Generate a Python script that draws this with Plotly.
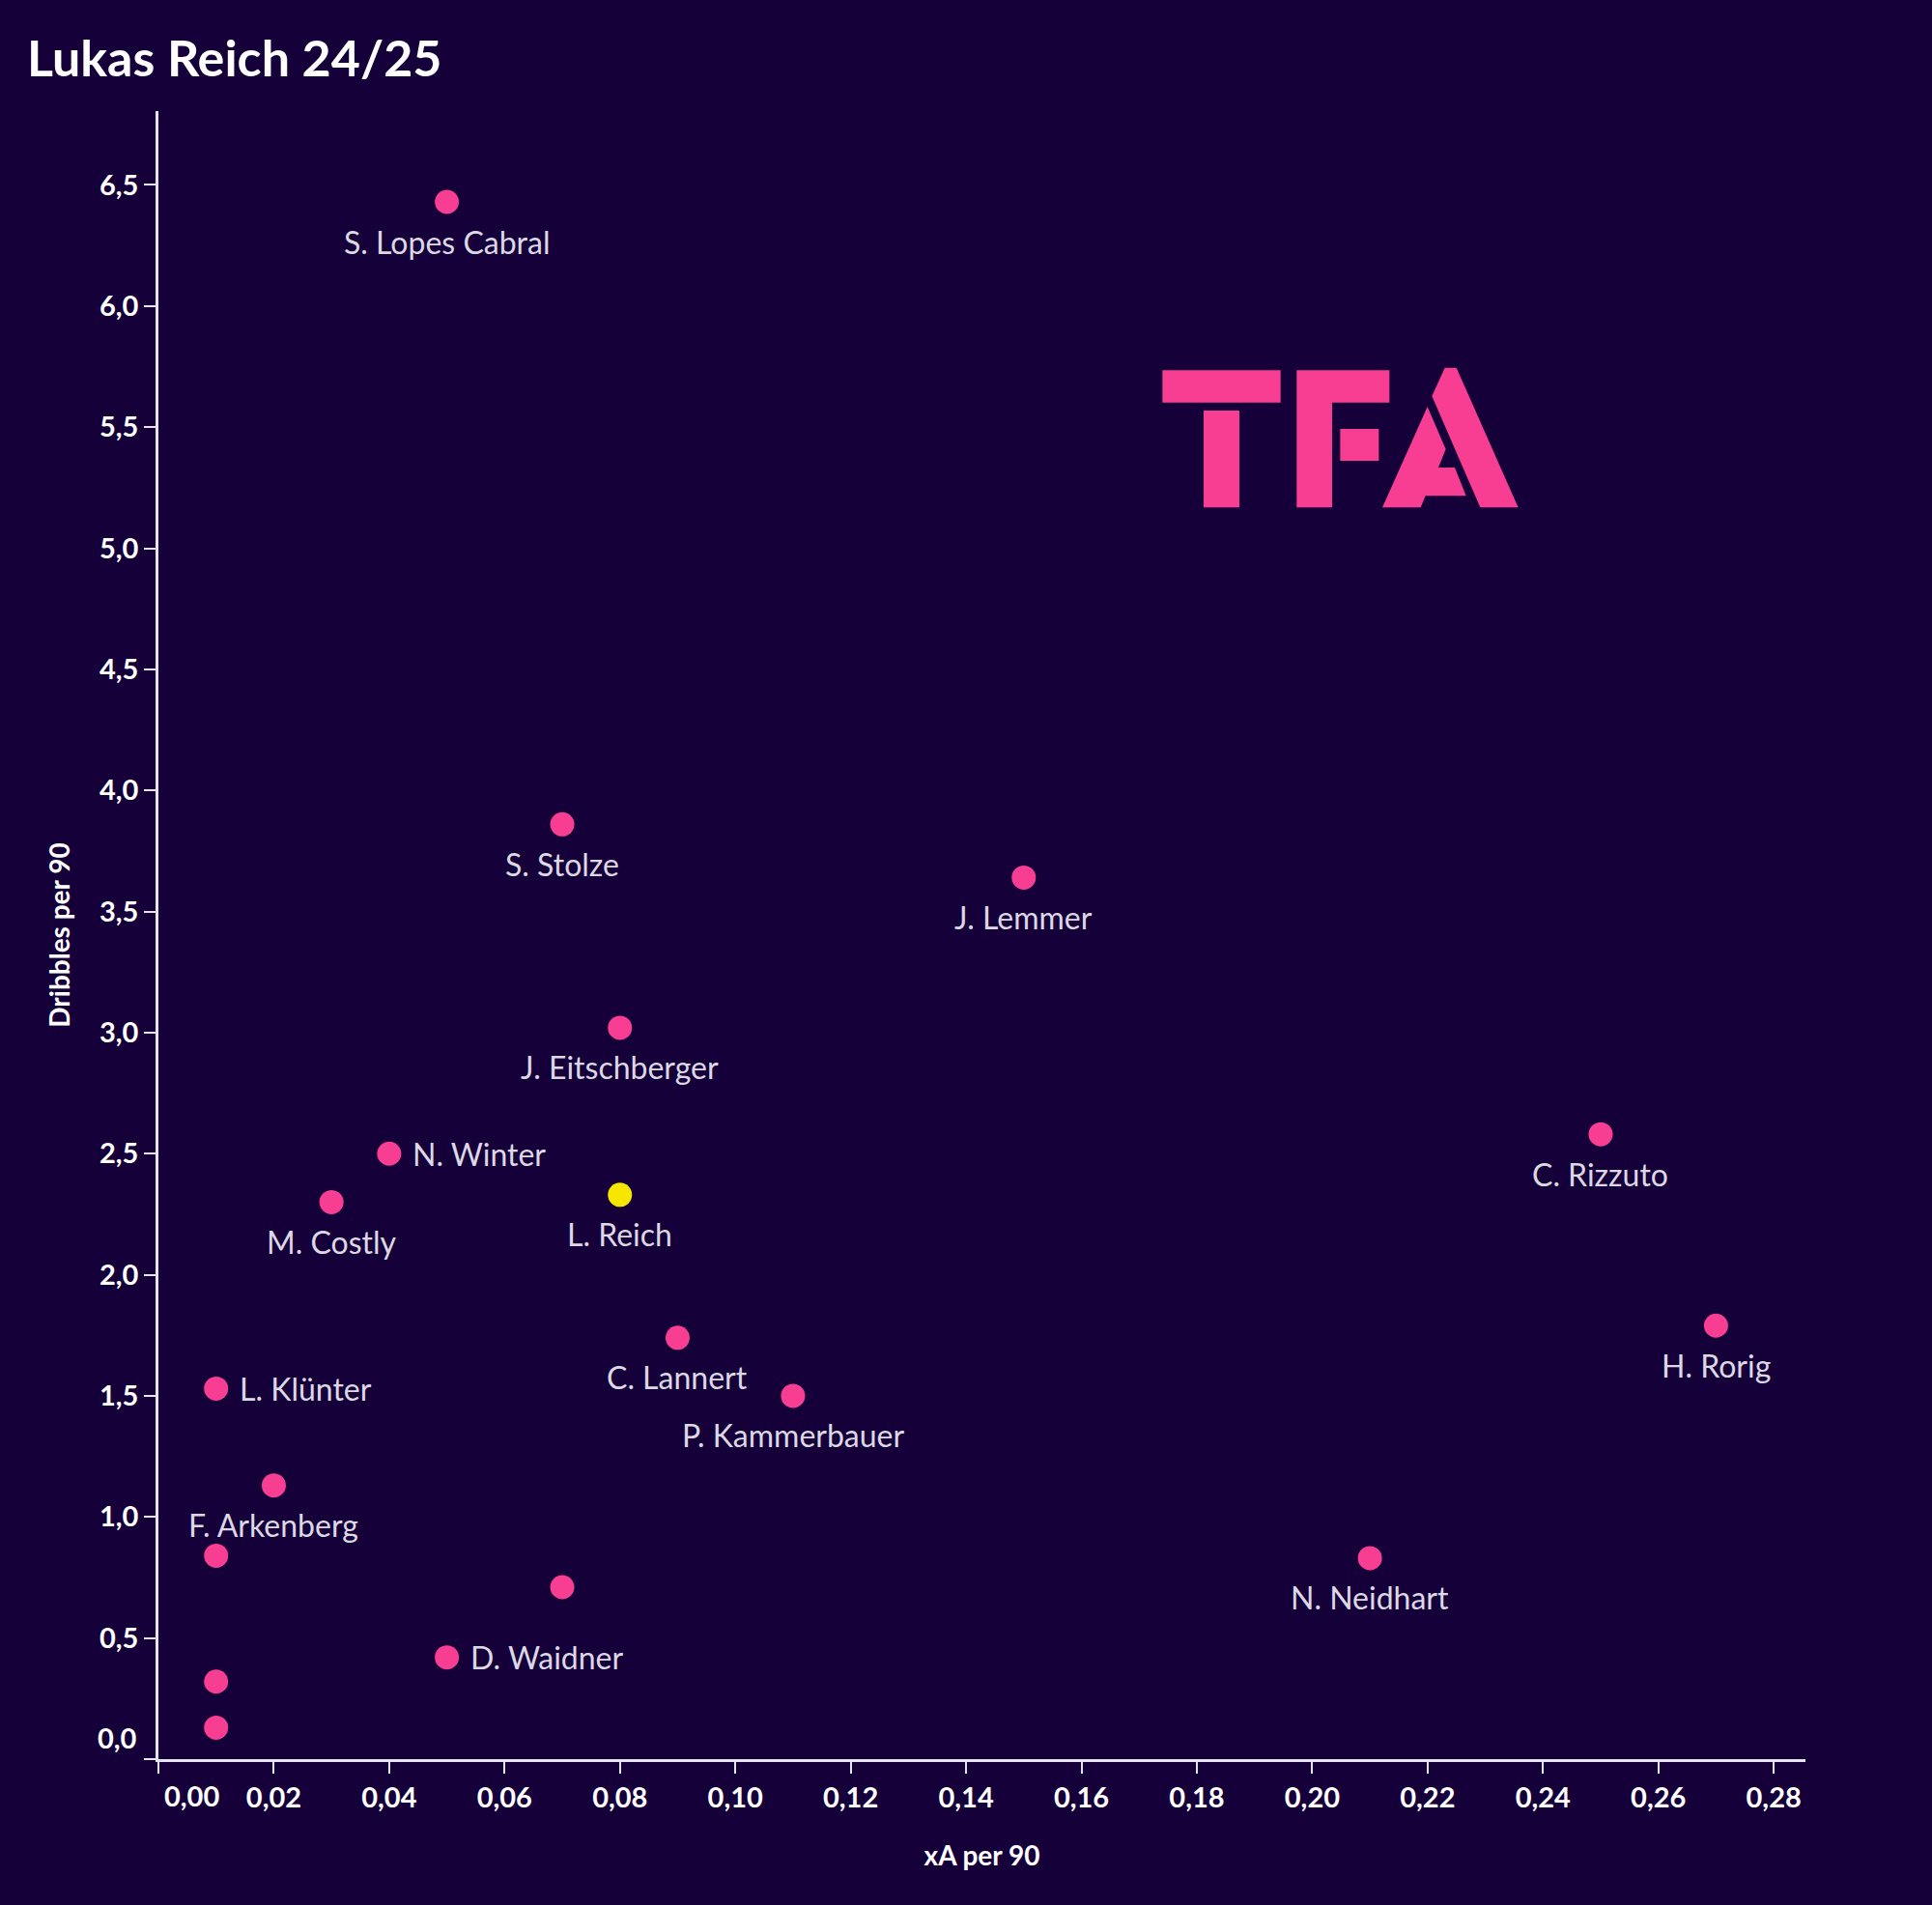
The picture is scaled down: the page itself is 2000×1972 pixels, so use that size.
import plotly.graph_objects as go

# players: xA per 90 vs dribbles per 90
players = ['S. Lopes Cabral', 'S. Stolze', 'J. Lemmer', 'J. Eitschberger', 'N. Winter',
           'M. Costly', 'L. Reich', 'C. Rizzuto', 'H. Rorig', 'C. Lannert',
           'P. Kammerbauer', 'L. Klünter', 'F. Arkenberg', '', '',
           'N. Neidhart', 'D. Waidner', '', '']
xa_per90 = [0.05, 0.07, 0.15, 0.08, 0.04,
            0.03, 0.08, 0.25, 0.27, 0.09,
            0.11, 0.01, 0.02, 0.01, 0.07,
            0.21, 0.05, 0.01, 0.01]
dribbles_per90 = [6.43, 3.86, 3.64, 3.02, 2.50,
                  2.30, 2.33, 2.58, 1.79, 1.74,
                  1.50, 1.53, 1.13, 0.84, 0.71,
                  0.83, 0.42, 0.32, 0.13]

x_ticks = [0.00, 0.02, 0.04, 0.06, 0.08, 0.10, 0.12, 0.14, 0.16, 0.18, 0.20, 0.22, 0.24, 0.26, 0.28]
y_ticks = [0.0, 0.5, 1.0, 1.5, 2.0, 2.5, 3.0, 3.5, 4.0, 4.5, 5.0, 5.5, 6.0, 6.5]

highlight = 'L. Reich'
right_labels = {'N. Winter', 'L. Klünter', 'D. Waidner'}

BG = '#15003a'
PINK = '#f73e93'
YELLOW = '#f6e600'
AXIS = '#e6e4ee'
LABEL = '#dcd8e4'
FONT = 'Lato'

W, H = 2000, 1972
L, R, T, B = 164, 131, 115, 151


def fmt(v, d):
    return f'{v:.{d}f}'.replace('.', ',')


colors = [YELLOW if p == highlight else PINK for p in players]

fig = go.Figure()
fig.add_trace(go.Scatter(
    x=xa_per90, y=dribbles_per90, mode='markers',
    marker=dict(size=25, color=colors, line=dict(width=0)),
    cliponaxis=False, hoverinfo='skip', showlegend=False))

for p, x, y in zip(players, xa_per90, dribbles_per90):
    if not p:
        continue
    if p in right_labels:
        fig.add_annotation(x=x, y=y, text=p, showarrow=False, xanchor='left',
                           yanchor='middle', xshift=22,
                           font=dict(family=FONT, size=32, color=LABEL))
    else:
        fig.add_annotation(x=x, y=y, text=p, showarrow=False, xanchor='center',
                           yanchor='middle', yshift=-41,
                           font=dict(family=FONT, size=32, color=LABEL))

# zero labels nudged off the axes
fig.add_annotation(x=0, y=0, text=fmt(y_ticks[0], 1), showarrow=False, xanchor='right',
                   yanchor='middle', xshift=-20, yshift=23,
                   font=dict(family=FONT, size=29, color='white', weight='bold'))
fig.add_annotation(x=0, y=0, text=fmt(x_ticks[0], 2), showarrow=False, xanchor='center',
                   yanchor='middle', xshift=34, yshift=-37,
                   font=dict(family=FONT, size=29, color='white', weight='bold'))

# TFA logo, pixel coords -> paper
def px(x, y):
    return (x - L) / (W - L - R), (H - B - y) / (H - T - B)


def zpt(zx, zy):
    return px(1150 + zx / 3, 340 + zy / 3)


def poly(pts):
    s = ''
    for i, (zx, zy) in enumerate(pts):
        a, b = zpt(zx, zy)
        s += ('M' if i == 0 else 'L') + f'{a:.5f},{b:.5f} '
    return s + 'Z'


logo = [
    [(160, 130), (527, 130), (527, 230), (160, 230)],
    [(288, 255), (399, 255), (399, 556), (288, 556)],
    [(577, 130), (865, 130), (865, 230), (687, 230), (687, 556), (577, 556)],
    [(712, 312), (832, 312), (832, 411), (712, 411)],
    [(1037, 122), (1073, 122), (1265, 556), (1147, 556), (997, 210)],
    [(983, 243), (1040, 375), (1017, 432), (1068, 432), (1103, 520), (977, 520),
     (962, 556), (843, 556)],
]
for pts in logo:
    fig.add_shape(type='path', path=poly(pts), xref='paper', yref='paper',
                  fillcolor=PINK, line=dict(width=0), layer='above')

axis_common = dict(showgrid=False, zeroline=False, showline=True, linecolor=AXIS,
                   linewidth=2.5, ticks='outside', ticklen=12, tickwidth=2,
                   tickcolor=AXIS, tickfont=dict(family=FONT, size=29, color='white',
                                                 weight='bold'))

fig.update_layout(
    width=W, height=H,
    margin=dict(l=L, r=R, t=T, b=B),
    paper_bgcolor=BG, plot_bgcolor=BG,
    title=dict(text='<b>Lukas Reich 24/25</b>', x=28 / W, xanchor='left',
               y=1 - 61 / H, yanchor='middle',
               font=dict(family=FONT, size=52, color='white')),
    xaxis=dict(range=[0, 0.2855], tickvals=x_ticks,
               ticktext=[''] + [fmt(v, 2) for v in x_ticks[1:]],
               title=dict(text='xA per 90', standoff=36,
                          font=dict(family=FONT, size=28, color='white', weight='bold')),
               **axis_common),
    yaxis=dict(range=[0, 6.805], tickvals=y_ticks,
               ticktext=[''] + [fmt(v, 1) for v in y_ticks[1:]],
               title=dict(text='Dribbles per 90', standoff=23,
                          font=dict(family=FONT, size=28, color='white', weight='bold')),
               **axis_common),
)
fig.layout.title.xref = 'container'

fig.write_html('out.html', config={'displayModeBar': False}, post_script=(
    "document.body.style.margin='0';"
    "document.body.style.background='%s';" % BG))
